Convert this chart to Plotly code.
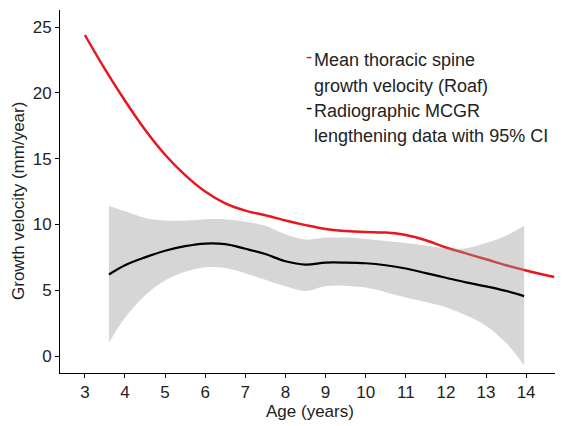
import plotly.graph_objects as go

# Mean thoracic spine growth velocity (Roaf)
age_roaf = [3, 3.5, 4, 4.5, 5, 5.5, 6, 6.5, 7, 7.5, 8, 8.5, 9, 9.5, 10, 10.5, 11, 11.5, 12, 12.5, 13, 13.5, 14, 14.7]
vel_roaf = [24.4, 21.8, 19.4, 17.2, 15.3, 13.75, 12.5, 11.6, 11.05, 10.7, 10.3, 9.95, 9.65, 9.5, 9.42, 9.38, 9.2, 8.8, 8.25, 7.8, 7.35, 6.9, 6.5, 6.0]

# Radiographic MCGR lengthening data with 95% CI
age_mcgr = [3.6, 4, 4.5, 5, 5.5, 6, 6.5, 7, 7.5, 8, 8.5, 9, 9.5, 10, 10.5, 11, 11.5, 12, 12.5, 13, 13.5, 13.95]
vel_mcgr = [6.2, 6.9, 7.5, 8.0, 8.35, 8.55, 8.5, 8.15, 7.75, 7.2, 6.95, 7.1, 7.1, 7.05, 6.9, 6.65, 6.3, 5.95, 5.6, 5.3, 4.95, 4.55]
ci_upper = [11.4, 11.0, 10.5, 10.3, 10.3, 10.4, 10.4, 10.2, 9.9, 9.25, 8.85, 9.0, 9.0, 8.9, 8.75, 8.6, 8.4, 8.2, 8.2, 8.6, 9.15, 9.9]
ci_lower = [1.0, 2.9, 4.6, 5.75, 6.4, 6.75, 6.7, 6.3, 5.8, 5.3, 4.95, 5.3, 5.35, 5.2, 4.85, 4.45, 4.1, 3.7, 3.1, 2.3, 1.0, -0.7]

x_ticks = [3, 4, 5, 6, 7, 8, 9, 10, 11, 12, 13, 14]
y_ticks = [0, 5, 10, 15, 20, 25]

legend_lines = [
    ["Mean thoracic spine", "growth velocity (Roaf)"],
    ["Radiographic MCGR", "lengthening data with 95% CI"],
]

RED = "#E8161E"
FONT = "Liberation Sans, Arial, sans-serif"
TXT = "#222222"

fig = go.Figure()
fig.add_trace(go.Scatter(x=age_roaf, y=vel_roaf, mode="lines", line=dict(color=RED, width=2.5, shape="spline"),
                         showlegend=False, hoverinfo="skip"))
fig.add_trace(go.Scatter(x=age_mcgr, y=ci_lower, mode="lines", line=dict(width=0, shape="spline"),
                         showlegend=False, hoverinfo="skip"))
fig.add_trace(go.Scatter(x=age_mcgr, y=ci_upper, mode="lines", line=dict(width=0, shape="spline"),
                         fill="tonexty", fillcolor="rgba(153,153,153,0.4)", showlegend=False, hoverinfo="skip"))
fig.add_trace(go.Scatter(x=age_mcgr, y=vel_mcgr, mode="lines", line=dict(color="black", width=2.2, shape="spline"),
                         showlegend=False, hoverinfo="skip"))

# the page body has an 8px default margin; target plot area (on screen): x 60..555, y 10..373
def px(X):
    return (X - 60) / 495.0

def py(Y):
    return (373 - Y) / 363.0

legend_cols = [RED, "black"]
line_y = [[60, 86], [111, 136]]
dash_y = [57, 108]
for lines, col, ys, dy in zip(legend_lines, legend_cols, line_y, dash_y):
    fig.add_annotation(xref="paper", yref="paper", x=px(309), y=py(dy), xanchor="center", yanchor="middle",
                       text="-", showarrow=False, font=dict(family=FONT, size=19, color=col))
    for t, yy in zip(lines, ys):
        fig.add_annotation(xref="paper", yref="paper", x=px(312), y=py(yy), xanchor="left", yanchor="middle",
                           text=t, showarrow=False, font=dict(family=FONT, size=18, color=TXT))

fig.add_annotation(xref="paper", yref="paper", x=px(310), y=py(411), xanchor="center", yanchor="middle",
                   text="Age (years)", showarrow=False, font=dict(family=FONT, size=17, color=TXT))
fig.add_annotation(xref="paper", yref="paper", x=px(18), y=py(201), xanchor="center", yanchor="middle",
                   text="Growth velocity (mm/year)", textangle=-90, showarrow=False,
                   font=dict(family=FONT, size=17, color=TXT))

fig.update_layout(
    width=555, height=418,
    margin=dict(l=52, r=8, t=2, b=53),
    plot_bgcolor="white", paper_bgcolor="white",
    font=dict(family=FONT, color=TXT),
    xaxis=dict(range=[2.38, 14.72], tickvals=x_ticks, ticks="outside", ticklen=4, tickcolor="black",
               showline=True, linecolor="black", linewidth=1, showgrid=False, zeroline=False,
               automargin=False, tickfont=dict(size=17, color=TXT)),
    yaxis=dict(range=[-1.29, 26.3], tickvals=y_ticks, ticks="outside", ticklen=4, tickcolor="black",
               showline=True, linecolor="black", linewidth=1, showgrid=False, zeroline=False,
               automargin=False, tickfont=dict(size=17, color=TXT)),
)

fig.write_html("out.html")
